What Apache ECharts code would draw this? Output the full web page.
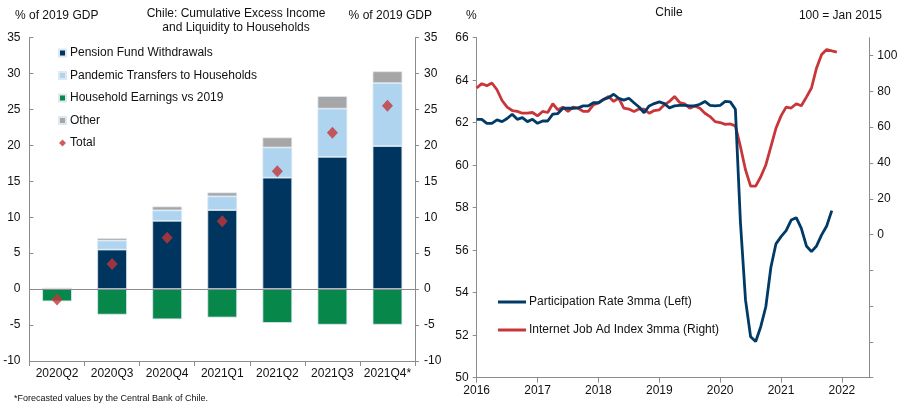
<!DOCTYPE html>
<html>
<head>
<meta charset="utf-8">
<script src="https://cdn.jsdelivr.net/npm/echarts@6/dist/echarts.min.js"></script>
<style>
html, body { margin: 0; padding: 0; background: #fff; }
#chart { width: 907px; height: 407px; }
</style>
</head>
<body>
<div id="chart"></div>
<script>
// left panel: cumulative excess income, % of 2019 GDP
var quarters = ['2020Q2', '2020Q3', '2020Q4', '2021Q1', '2021Q2', '2021Q3', '2021Q4*'];
var pensionFund = [0, 5.5, 9.5, 11.0, 15.5, 18.4, 19.9];
var pandemicTransfers = [0, 1.25, 1.45, 1.9, 4.2, 6.7, 8.75];
var householdEarnings = [-1.7, -3.55, -4.2, -3.95, -4.7, -4.95, -4.95];
var otherItems = [0.2, 0.35, 0.55, 0.55, 1.4, 1.75, 1.65];
var totals = [-1.45, 3.5, 7.15, 9.45, 16.4, 21.75, 25.5];

// right panel: monthly series starting Jan 2016
var startYear = 2016;
var participationRate = [
    62.16, 62.16, 61.97, 61.97, 62.13, 62.05, 62.2, 62.4, 62.16, 62.24, 62.05, 62.16,
    61.97, 62.08, 62.08, 62.4, 62.43, 62.68, 62.68, 62.68, 62.7, 62.79, 62.79, 62.94,
    62.94, 63.1, 63.18, 63.34, 63.15, 63.06, 63.15, 62.94, 62.74, 62.47, 62.79, 62.9,
    62.98, 62.9, 62.7, 62.79, 62.82, 62.82, 62.79, 62.79, 62.87, 63.0, 62.82, 62.79,
    62.82, 63.0, 62.98, 62.63, 57.3, 53.65, 51.93, 51.7, 52.4, 53.34, 55.2, 56.3,
    56.64, 56.92, 57.42, 57.53, 57.03, 56.2, 55.93, 56.2, 56.72, 57.14, 57.86
];
var jobAdIndex = [
    81.9, 84.3, 83.2, 84.7, 80.9, 74.9, 71.2, 69.3, 68.8, 67.8, 67.8, 68.2,
    66.3, 68.8, 68.2, 73.1, 69.7, 71.2, 68.8, 71.2, 70.6, 68.8, 68.8, 72.5,
    73.5, 75.4, 77.2, 74.4, 76.3, 70.6, 70.1, 68.8, 70.1, 70.1, 67.8, 69.3,
    69.7, 72.5, 74.4, 77.2, 73.8, 73.0, 70.6, 71.9, 70.6, 67.8, 65.9, 63.1,
    62.6, 61.6, 61.8, 60.7, 49.1, 36.1, 27.1, 27.1, 32.3, 38.9, 49.1, 59.4,
    66.3, 71.2, 70.7, 73.1, 72.0, 76.8, 81.9, 93.1, 100.6, 103.4, 102.6, 101.9
];
var yearTicks = [2016, 2017, 2018, 2019, 2020, 2021, 2022];
var leftTicks = [-80, -60, -40, -20, 0, 20, 40, 60, 80, 100];
var rightLabels = [0, 20, 40, 60, 80, 100];

var FONT = 'Liberation Sans, Arial, sans-serif';
var AXIS_COLOR = '#8c8c8c';

// month index -> fractional year on the x axis
function toPairs(values) {
    var out = [];
    for (var i = 0; i < values.length; i++) {
        out.push([startYear + i / 12, values[i]]);
    }
    return out;
}

function axisBase() {
    return {
        axisLine: { show: true, lineStyle: { color: AXIS_COLOR, width: 1 } },
        axisTick: { show: true, length: 4, lineStyle: { color: AXIS_COLOR } },
        axisLabel: { color: '#111', fontFamily: FONT, fontSize: 12 },
        splitLine: { show: false }
    };
}

function yAxisLeftBars(pos, inside) {
    var a = axisBase();
    a.type = 'value';
    a.gridIndex = 0;
    a.position = pos;
    a.min = -10;
    a.max = 35;
    a.interval = 5;
    a.axisTick.inside = inside;
    a.axisLabel.margin = 9;
    return a;
}

var barBorder = { borderColor: '#dde8f2', borderWidth: 0.8 };

var chart = echarts.init(document.getElementById('chart'));
chart.setOption({
    animation: false,
    textStyle: { fontFamily: FONT },
    title: [
        { text: '% of 2019 GDP', left: 10, top: 5, textStyle: { fontSize: 12, fontWeight: 'normal', color: '#111' } },
        { text: '% of 2019 GDP', right: 470, top: 5, textStyle: { fontSize: 12, fontWeight: 'normal', color: '#111' } },
        { text: 'Chile: Cumulative Excess Income\nand Liquidity to Households', left: 231, top: 1, textAlign: 'center',
          textStyle: { fontSize: 12, fontWeight: 'normal', color: '#111', lineHeight: 14.5 } },
        { text: '*Forecasted values by the Central Bank of Chile.', left: 9, top: 389,
          textStyle: { fontSize: 9, fontWeight: 'normal', color: '#111' } },
        { text: '%', left: 461, top: 5, textStyle: { fontSize: 12, fontWeight: 'normal', color: '#111' } },
        { text: 'Chile', left: 664, top: 2, textAlign: 'center', textStyle: { fontSize: 12, fontWeight: 'normal', color: '#111' } },
        { text: '100 = Jan 2015', right: 20, top: 5, textStyle: { fontSize: 12, fontWeight: 'normal', color: '#111' } }
    ],
    legend: [
        {
            orient: 'vertical', left: 53, top: 41,
            itemWidth: 7, itemHeight: 7, itemGap: 8.5,
            textStyle: { fontSize: 12, color: '#111', lineHeight: 14, padding: [0, 0, 0, -1] },
            data: [
                { name: 'Pension Fund Withdrawals', icon: 'rect' },
                { name: 'Pandemic Transfers to Households', icon: 'rect' },
                { name: 'Household Earnings vs 2019', icon: 'rect' },
                { name: 'Other', icon: 'rect' },
                { name: 'Total', icon: 'diamond' }
            ]
        },
        {
            orient: 'vertical', left: 493, top: 290,
            itemWidth: 28, itemHeight: 3, itemGap: 14,
            textStyle: { fontSize: 12, color: '#111', lineHeight: 14, padding: [0, 0, 0, -2] },
            data: [
                { name: 'Participation Rate 3mma (Left)', icon: 'rect' },
                { name: 'Internet Job Ad Index 3mma (Right)', icon: 'rect' }
            ]
        }
    ],
    grid: [
        { left: 29.5, top: 37.5, width: 385.5, height: 323.5 },
        { left: 476.7, top: 37.7, width: 392.6, height: 340 }
    ],
    xAxis: [
        (function() {
            var a = axisBase();
            a.type = 'category';
            a.gridIndex = 0;
            a.data = quarters;
            a.axisLine.onZero = false;
            a.axisTick.length = 5;
            a.axisLabel.margin = 7;
            a.axisLabel.interval = 0;
            return a;
        })(),
        (function() {
            var a = axisBase();
            a.type = 'value';
            a.gridIndex = 1;
            a.min = 2016;
            a.max = 2022.45;
            a.axisLine.onZero = false;
            a.axisTick.length = 5;
            a.axisTick.customValues = yearTicks;
            a.axisLabel.customValues = yearTicks;
            a.axisLabel.margin = 7;
            a.axisLabel.formatter = function(v) { return String(Math.round(v)); };
            return a;
        })()
    ],
    yAxis: [
        yAxisLeftBars('left', true),
        yAxisLeftBars('right', false),
        (function() {
            var a = axisBase();
            a.type = 'value';
            a.gridIndex = 1;
            a.position = 'left';
            a.min = 50;
            a.max = 66;
            a.interval = 2;
            a.axisLabel.margin = 8;
            return a;
        })(),
        (function() {
            var a = axisBase();
            a.type = 'value';
            a.gridIndex = 1;
            a.position = 'right';
            a.min = -80;
            a.max = 110;
            a.axisTick.customValues = leftTicks;
            a.axisLabel.customValues = rightLabels;
            a.axisLabel.margin = 8;
            return a;
        })()
    ],
    series: [
        {
            name: 'Pension Fund Withdrawals', type: 'bar', stack: 'cum', barWidth: '54%',
            xAxisIndex: 0, yAxisIndex: 0, data: pensionFund,
            itemStyle: Object.assign({ color: '#00355f' }, barBorder),
            markLine: {
                silent: true, symbol: 'none', label: { show: false },
                lineStyle: { color: AXIS_COLOR, type: 'solid', width: 1 },
                data: [{ yAxis: 0 }]
            }
        },
        {
            name: 'Pandemic Transfers to Households', type: 'bar', stack: 'cum',
            xAxisIndex: 0, yAxisIndex: 0, data: pandemicTransfers,
            itemStyle: Object.assign({ color: '#aed4f0' }, barBorder)
        },
        {
            name: 'Household Earnings vs 2019', type: 'bar', stack: 'cum',
            xAxisIndex: 0, yAxisIndex: 0, data: householdEarnings,
            itemStyle: Object.assign({ color: '#07874a' }, barBorder)
        },
        {
            name: 'Other', type: 'bar', stack: 'cum',
            xAxisIndex: 0, yAxisIndex: 0, data: otherItems,
            itemStyle: Object.assign({ color: '#a6a6a6' }, barBorder)
        },
        {
            name: 'Total', type: 'scatter', symbol: 'diamond', symbolSize: [11, 12],
            xAxisIndex: 0, yAxisIndex: 0, data: totals, z: 5,
            itemStyle: { color: '#c4363a' }
        },
        {
            name: 'Participation Rate 3mma (Left)', type: 'line', showSymbol: false,
            xAxisIndex: 1, yAxisIndex: 2, data: toPairs(participationRate), z: 4,
            lineStyle: { color: '#003a66', width: 2.8 }, itemStyle: { color: '#003a66' }
        },
        {
            name: 'Internet Job Ad Index 3mma (Right)', type: 'line', showSymbol: false,
            xAxisIndex: 1, yAxisIndex: 3, data: toPairs(jobAdIndex), z: 3,
            lineStyle: { color: '#c8363a', width: 2.8 }, itemStyle: { color: '#c8363a' }
        }
    ]
});
</script>
</body>
</html>
